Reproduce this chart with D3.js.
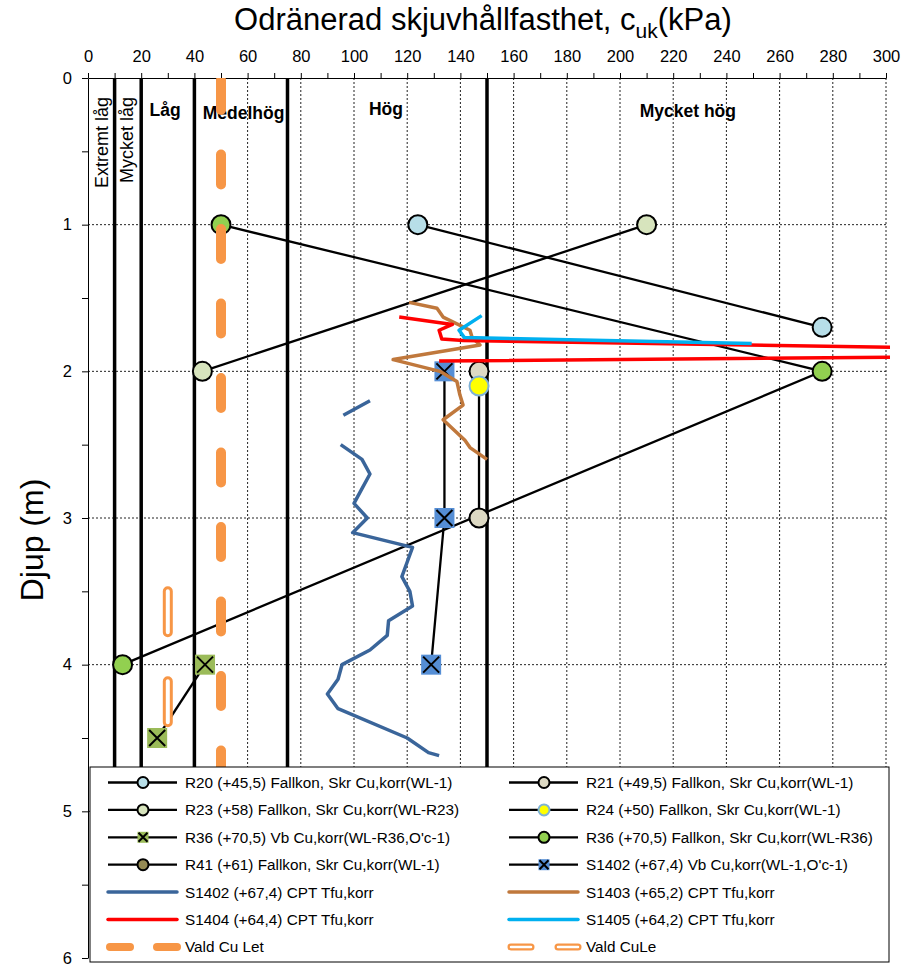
<!DOCTYPE html>
<html>
<head>
<meta charset="utf-8">
<script src="https://cdn.jsdelivr.net/npm/d3@7"></script>
<style>
body { margin: 0; background: #fff; }
text { font-family: "Liberation Sans", Arial, sans-serif; fill: #000; }
</style>
</head>
<body>
<script>
// chart data
var xTicks = d3.range(0, 301, 10);
var yTicks = d3.range(0, 6.01, 0.5);
var classBounds = [10, 20, 40, 75, 150];
var classNames = ["Extremt låg", "Mycket låg", "Låg", "Medelhög", "Hög", "Mycket hög"];

var r20 = [[124, 1], [276, 1.7]];
var r21 = [[147, 2], [147, 3]];
var r23 = [[210, 1], [43, 2]];
var r24 = [[147, 2.1]];
var r36vb = [[44, 4], [26, 4.5]];
var r36fk = [[50, 1], [276, 2], [13, 4]];
var r41 = [];
var s1402vb = [[134, 2], [134, 3], [129, 4]];

var s1402cpt = [[106, 2.2], [96, 2.3], null, [95, 2.5], [103, 2.6], [106, 2.7], [103, 2.8], [100, 2.9],
    [105, 3.0], [99.5, 3.1], [122, 3.2], [120, 3.3], [118, 3.4], [121, 3.5], [122, 3.6], [113, 3.7],
    [112.5, 3.8], [106, 3.9], [95.5, 4.0], [94, 4.1], [90, 4.2], [94, 4.3], [120, 4.5], [128, 4.6], [132, 4.62]];
var s1403cpt = [[120.7, 1.53], [131.2, 1.57], [133.5, 1.63], [143.6, 1.72], [144.4, 1.77], [147.4, 1.82],
    [114.7, 1.92], [132.3, 2.0], [138.7, 2.07], [139.8, 2.16], [141, 2.23], [133.5, 2.33], [141.7, 2.47],
    [143.6, 2.52], [150, 2.6]];
var s1404cpt = [[117, 1.63], [137, 1.68], [132, 1.72], [133, 1.78], [141, 1.79], [462, 1.88], [132, 1.93]];
var s1405cpt = [[148, 1.62], [139.5, 1.72], [141.5, 1.77], [249.5, 1.81]];

var valdCuLet = [[50, 0], [50, 6]];
var valdCuLe = [[30, 3.5], [30, 4.5]];

var legendNames = [
    "R20 (+45,5) Fallkon, Skr Cu,korr(WL-1)", "R21 (+49,5) Fallkon, Skr Cu,korr(WL-1)",
    "R23 (+58) Fallkon, Skr Cu,korr(WL-R23)", "R24 (+50) Fallkon, Skr Cu,korr(WL-1)",
    "R36 (+70,5) Vb Cu,korr(WL-R36,O'c-1)", "R36 (+70,5) Fallkon, Skr Cu,korr(WL-R36)",
    "R41 (+61) Fallkon, Skr Cu,korr(WL-1)", "S1402 (+67,4) Vb Cu,korr(WL-1,O'c-1)",
    "S1402 (+67,4) CPT Tfu,korr", "S1403 (+65,2) CPT Tfu,korr",
    "S1404 (+64,4) CPT Tfu,korr", "S1405 (+64,2) CPT Tfu,korr",
    "Vald Cu Let", "Vald CuLe"
];

var width = 905;
var height = 964;
var pLeft = 88, pRight = 886, pTop = 78, pBottom = 958;

var x = d3.scaleLinear().domain([0, 300]).range([pLeft, pRight]);
var y = d3.scaleLinear().domain([0, 6]).range([pTop, pBottom]);

var svg = d3.select("body").append("svg")
    .attr("width", width)
    .attr("height", height);

svg.append("defs").append("clipPath").attr("id", "plot")
    .append("rect")
    .attr("x", pLeft).attr("y", pTop)
    .attr("width", 890 - pLeft).attr("height", pBottom - pTop);

//grid
svg.append("g").selectAll("line").data(d3.range(20, 301, 20)).enter().append("line")
    .attr("x1", function (d) { return x(d); })
    .attr("x2", function (d) { return x(d); })
    .attr("y1", pTop).attr("y2", pBottom)
    .attr("stroke", "#222").attr("stroke-width", 1).attr("stroke-dasharray", "2,2");

svg.append("g").selectAll("line").data([1, 2, 3, 4, 5]).enter().append("line")
    .attr("x1", pLeft).attr("x2", pRight)
    .attr("y1", function (d) { return y(d); })
    .attr("y2", function (d) { return y(d); })
    .attr("stroke", "#222").attr("stroke-width", 1).attr("stroke-dasharray", "2,2");

//axes
var xAxis = d3.axisTop(x).tickValues(xTicks).tickSize(5).tickSizeOuter(0).tickPadding(11)
    .tickFormat(function (d) { return d % 20 === 0 ? d : ""; });
var gx = svg.append("g").attr("transform", "translate(0," + pTop + ")").call(xAxis);

var yAxis = d3.axisLeft(y).tickValues(yTicks).tickSize(6).tickSizeOuter(0).tickPadding(10)
    .tickFormat(function (d) { return d % 1 === 0 ? d : ""; });
var gy = svg.append("g").attr("transform", "translate(" + pLeft + ",0)").call(yAxis);

[gx, gy].forEach(function (g) {
    g.selectAll("text").attr("font-size", 16.5).attr("font-family", "Liberation Sans, Arial, sans-serif").attr("fill", "#000");
    g.selectAll("line").attr("stroke", "#000");
    g.select(".domain").attr("stroke", "#000");
});

//class boundaries
svg.append("g").selectAll("line").data(classBounds).enter().append("line")
    .attr("x1", function (d) { return x(d); })
    .attr("x2", function (d) { return x(d); })
    .attr("y1", pTop).attr("y2", pBottom)
    .attr("stroke", "#000").attr("stroke-width", 3.5);

//class labels
var vert = svg.append("g").attr("font-size", 18);
vert.append("text").attr("transform", "translate(108,97) rotate(-90)")
    .attr("text-anchor", "end").text(classNames[0]);
vert.append("text").attr("transform", "translate(133,97) rotate(-90)")
    .attr("text-anchor", "end").text(classNames[1]);

var horiz = svg.append("g").attr("font-size", 17.5).attr("font-weight", "bold").attr("text-anchor", "middle");
horiz.append("text").attr("x", x(29)).attr("y", 116).text(classNames[2]);
horiz.append("text").attr("x", x(58.5)).attr("y", 119).text(classNames[3]);
horiz.append("text").attr("x", x(112)).attr("y", 115).text(classNames[4]);
horiz.append("text").attr("x", x(225.5)).attr("y", 117).text(classNames[5]);

var plot = svg.append("g").attr("clip-path", "url(#plot)");

var line = d3.line()
    .defined(function (d) { return d !== null; })
    .x(function (d) { return x(d[0]); })
    .y(function (d) { return y(d[1]); });

//point series lines
[r20, r21, r23, r24, r36vb, r36fk, r41, s1402vb].forEach(function (s) {
    plot.append("path").attr("d", line(s))
        .attr("fill", "none").attr("stroke", "#000").attr("stroke-width", 2.3);
});

function circles(g, data, fill, stroke, r) {
    g.append("g").selectAll("circle").data(data).enter().append("circle")
        .attr("cx", function (d) { return x(d[0]); })
        .attr("cy", function (d) { return y(d[1]); })
        .attr("r", r)
        .attr("fill", fill).attr("stroke", stroke).attr("stroke-width", 2);
}

function crossBoxes(g, data, fill, s) {
    var m = g.append("g").selectAll("g").data(data).enter().append("g")
        .attr("transform", function (d) { return "translate(" + x(d[0]) + "," + y(d[1]) + ")"; });
    m.append("rect").attr("x", -s / 2).attr("y", -s / 2).attr("width", s).attr("height", s)
        .attr("fill", fill);
    m.append("path").attr("d", "M" + (-s / 2 + 2) + "," + (-s / 2 + 2) + "L" + (s / 2 - 2) + "," + (s / 2 - 2) +
        "M" + (s / 2 - 2) + "," + (-s / 2 + 2) + "L" + (-s / 2 + 2) + "," + (s / 2 - 2))
        .attr("stroke", "#000").attr("stroke-width", 2);
}

circles(plot, r20, "#b7dee8", "#000", 9.5);
circles(plot, r21, "#ddd9c3", "#000", 9.5);
circles(plot, r23, "#d7e4bd", "#000", 9.5);
circles(plot, r36fk, "#92d050", "#000", 9.5);
circles(plot, r41, "#948a54", "#000", 9.5);
circles(plot, r24, "#ffff00", "#7fb2d6", 9.5);
crossBoxes(plot, r36vb, "#9bbb59", 20);
crossBoxes(plot, s1402vb, "#558ed5", 20);

//CPT
var cptColors = ["#3a659a", "#c0783c", "#ff0000", "#00b0f0"];
[s1402cpt, s1403cpt, s1404cpt, s1405cpt].forEach(function (s, i) {
    plot.append("path").attr("d", line(s))
        .attr("fill", "none").attr("stroke", cptColors[i]).attr("stroke-width", 3.5)
        .attr("stroke-linejoin", "round");
});

//chosen values
plot.append("path").attr("d", line(valdCuLet))
    .attr("fill", "none").attr("stroke", "#f79646").attr("stroke-width", 10)
    .attr("stroke-linecap", "round").attr("stroke-dasharray", "30,44.5").attr("stroke-dashoffset", -2);
plot.append("path").attr("d", line(valdCuLe))
    .attr("fill", "none").attr("stroke", "#f79646").attr("stroke-width", 10)
    .attr("stroke-linecap", "round").attr("stroke-dasharray", "41,49");
plot.append("path").attr("d", line(valdCuLe))
    .attr("fill", "none").attr("stroke", "#fff").attr("stroke-width", 4)
    .attr("stroke-linecap", "round").attr("stroke-dasharray", "41,49");

//title
var title = svg.append("text").attr("x", 483).attr("y", 30)
    .attr("text-anchor", "middle").attr("font-size", 31);
title.append("tspan").text("Odränerad skjuvhållfasthet, c");
title.append("tspan").attr("font-size", 21).attr("dy", 8).text("uk");
title.append("tspan").attr("dy", -8).text("(kPa)");

svg.append("text")
    .attr("transform", "translate(43,540) rotate(-90)")
    .attr("text-anchor", "middle").attr("font-size", 32)
    .text("Djup (m)");

//legend
var legend = svg.append("g");
legend.append("rect").attr("x", 90).attr("y", 767).attr("width", 799).attr("height", 195)
    .attr("fill", "#fff").attr("stroke", "#000").attr("stroke-width", 1);

var items = legend.selectAll(".item").data(legendNames).enter().append("g")
    .attr("transform", function (d, i) {
        return "translate(" + (i % 2 === 0 ? 108 : 509) + "," + (782.5 + Math.floor(i / 2) * 27.4) + ")";
    });

items.append("text").attr("x", 77).attr("y", 5.5).attr("font-size", 15.3)
    .text(function (d) { return d; });

items.each(function (d, i) {
    var g = d3.select(this);
    if (i < 8) {
        g.append("line").attr("x1", 0).attr("x2", 69).attr("stroke", "#000").attr("stroke-width", 2.3);
        var fills = ["#b7dee8", "#ddd9c3", "#d7e4bd", "#ffff00", "#9bbb59", "#92d050", "#948a54", "#558ed5"];
        if (i === 4 || i === 7) {
            g.append("rect").attr("x", 29.5).attr("y", -5.5).attr("width", 11).attr("height", 11).attr("fill", fills[i]);
            g.append("path").attr("d", "M30.5,-4.5L39.5,4.5M39.5,-4.5L30.5,4.5")
                .attr("stroke", "#000").attr("stroke-width", 2);
        } else {
            g.append("circle").attr("cx", 35).attr("r", 5.5).attr("fill", fills[i])
                .attr("stroke", i === 3 ? "#7fb2d6" : "#000").attr("stroke-width", 2);
        }
    } else if (i < 12) {
        var c = cptColors[i - 8];
        g.append("line").attr("x1", 0).attr("x2", 69).attr("stroke", c).attr("stroke-width", 3.5)
            .attr("stroke-linecap", "round");
    } else {
        [[2, 22], [49, 69]].forEach(function (seg) {
            g.append("line").attr("x1", seg[0]).attr("x2", seg[1]).attr("stroke", "#f79646")
                .attr("stroke-width", i === 12 ? 8 : 7).attr("stroke-linecap", "round");
            if (i === 13) {
                g.append("line").attr("x1", seg[0]).attr("x2", seg[1]).attr("stroke", "#fff")
                    .attr("stroke-width", 2.5).attr("stroke-linecap", "round");
            }
        });
    }
});
</script>
</body>
</html>
